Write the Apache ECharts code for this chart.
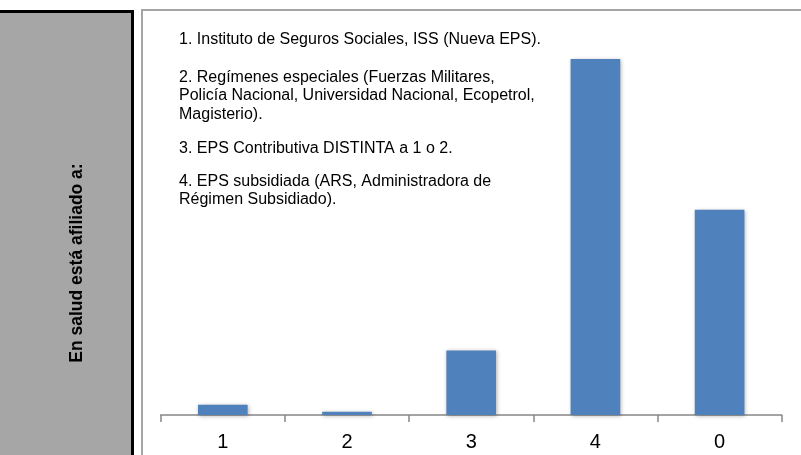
<!DOCTYPE html>
<html>
<head>
<meta charset="utf-8">
<script src="https://cdn.jsdelivr.net/npm/echarts@6/dist/echarts.min.js"></script>
<style>
  html, body { margin: 0; padding: 0; background: #fff; }
  #chart { width: 801px; height: 455px; }
</style>
</head>
<body>
<div id="chart"></div>
<script>
// categories and values (share of respondents, %)
const categories = ['1', '2', '3', '4', '0'];
const values = [1.6, 0.5, 10.1, 55.7, 32.1];
const sideTitle = 'En salud está afiliado a:';
const notes = [
  { text: '1. Instituto de Seguros Sociales, ISS (Nueva EPS).', y: 30 },
  { text: '2. Regímenes especiales (Fuerzas Militares,\nPolicía Nacional, Universidad Nacional, Ecopetrol,\nMagisterio).', y: 68 },
  { text: '3. EPS Contributiva DISTINTA a 1 o 2.', y: 139 },
  { text: '4. EPS subsidiada (ARS, Administradora de\nRégimen Subsidiado).', y: 172 }
];

const font = '"Liberation Sans", Arial, sans-serif';

const chart = echarts.init(document.getElementById('chart'));

const graphics = [
  // left header panel
  { type: 'rect', shape: { x: 0, y: 10, width: 134, height: 445 }, style: { fill: '#000' }, z: 1 },
  { type: 'rect', shape: { x: 0, y: 13, width: 131, height: 442 }, style: { fill: '#A6A6A6' }, z: 2 },
  {
    type: 'text', x: 77, y: 263, rotation: Math.PI / 2, z: 3,
    style: {
      text: sideTitle, fill: '#000', align: 'center', verticalAlign: 'middle',
      font: 'bold 17.5px ' + font
    }
  },
  // chart frame
  { type: 'rect', shape: { x: 142, y: 10, width: 700, height: 500 }, style: { fill: 'none', stroke: '#A5A5A5', lineWidth: 2 }, z: 1 }
];

notes.forEach(n => {
  graphics.push({
    type: 'text', x: 179, y: n.y, z: 3,
    style: {
      text: n.text, fill: '#000', align: 'left', verticalAlign: 'top',
      font: '16px ' + font, lineHeight: 18.5
    }
  });
});

const option = {
  animation: false,
  grid: { left: 160.7, right: 19.3, top: 31.5, bottom: 40 },
  xAxis: {
    type: 'category',
    data: categories,
    axisLine: { lineStyle: { color: '#868686', width: 1.5 } },
    axisTick: { show: true, length: 7, lineStyle: { color: '#868686', width: 1.5 } },
    axisLabel: { color: '#000', fontSize: 20, fontFamily: font, margin: 17 }
  },
  yAxis: {
    type: 'value',
    min: 0,
    max: 60,
    show: false,
    splitLine: { show: false }
  },
  series: [{
    type: 'bar',
    data: values,
    barWidth: '40%',
    itemStyle: {
      color: '#4F81BD',
      shadowBlur: 4,
      shadowColor: 'rgba(0,0,0,0.3)',
      shadowOffsetX: 1,
      shadowOffsetY: 1
    }
  }],
  graphic: graphics
};

chart.setOption(option);
</script>
</body>
</html>
